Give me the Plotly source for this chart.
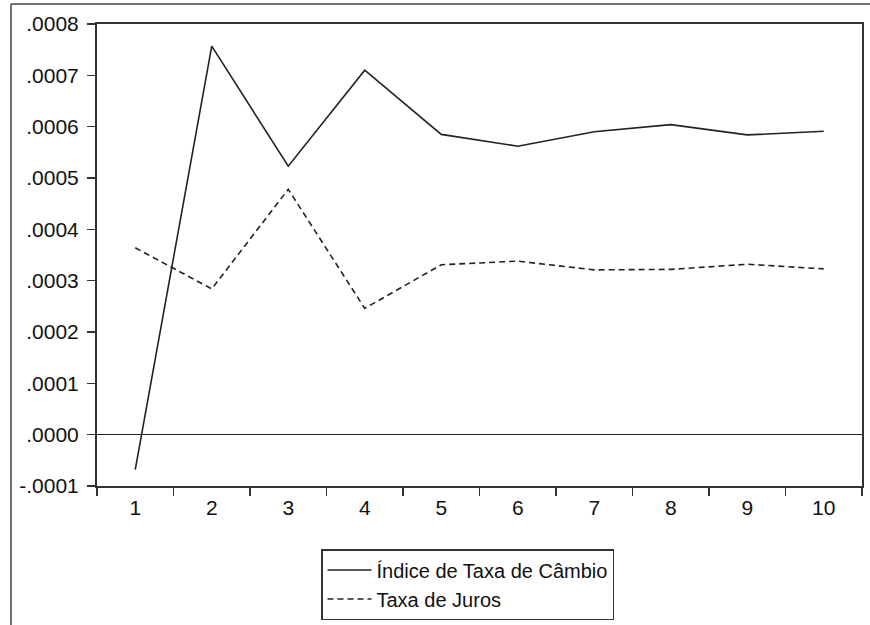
import plotly.graph_objects as go

periods = ["1", "2", "3", "4", "5", "6", "7", "8", "9", "10"]
cambio = [-0.000068, 0.000757, 0.000523, 0.000710, 0.000585, 0.000562, 0.000590, 0.000604, 0.000584, 0.000591]
juros = [0.000364, 0.000284, 0.000478, 0.000246, 0.000331, 0.000338, 0.000321, 0.000322, 0.000332, 0.000323]
y_ticks = [-0.0001, 0.0, 0.0001, 0.0002, 0.0003, 0.0004, 0.0005, 0.0006, 0.0007, 0.0008]
y_labels = ["-.0001", ".0000", ".0001", ".0002", ".0003", ".0004", ".0005", ".0006", ".0007", ".0008"]

W, H = 870, 625
L, R, T, B = 97, 8, 24, 139
pw, ph = W - L - R, H - T - B

font = dict(family="Liberation Sans, Arial, sans-serif", size=21, color="#111")
legend_font = dict(family="Liberation Sans, Arial, sans-serif", size=20, color="#111")

fig = go.Figure()
fig.add_trace(go.Scatter(x=periods, y=cambio, mode="lines", name="Índice de Taxa de Câmbio",
                         line=dict(color="#222", width=1.6)))
fig.add_trace(go.Scatter(x=periods, y=juros, mode="lines", name="Taxa de Juros",
                         line=dict(color="#222", width=1.6, dash="6px,4px")))

def px_to_paper_x(px):
    return (px - L) / pw

def px_to_paper_y(py):
    return (H - B - py) / ph

# outer frame (top and left)
fig.add_shape(type="line", xref="paper", yref="paper",
              x0=px_to_paper_x(11), x1=px_to_paper_x(880), y0=px_to_paper_y(4), y1=px_to_paper_y(4),
              line=dict(color="#444", width=1.5))
fig.add_shape(type="line", xref="paper", yref="paper",
              x0=px_to_paper_x(11), x1=px_to_paper_x(11), y0=px_to_paper_y(4), y1=px_to_paper_y(640),
              line=dict(color="#444", width=1.5))

fig.update_layout(
    width=W, height=H,
    margin=dict(l=L, r=R, t=T, b=B, autoexpand=False),
    paper_bgcolor="white", plot_bgcolor="white",
    font=font,
    showlegend=True,
    legend=dict(x=px_to_paper_x(321), y=px_to_paper_y(549), xanchor="left", yanchor="top",
                bordercolor="#333", borderwidth=1.5, bgcolor="white",
                font=legend_font, tracegroupgap=0, itemwidth=44,
                ),
    xaxis=dict(type="category", range=[-0.5, 9.5], tickson="boundaries",
               ticks="outside", ticklen=8, tickwidth=1.5, tickcolor="#333",
               showline=True, linecolor="#333", linewidth=2, mirror=True,
               showgrid=False, zeroline=False, tickfont=font, ticklabelstandoff=2),
    yaxis=dict(range=[-0.0001, 0.0008], tickvals=y_ticks, ticktext=y_labels,
               ticks="outside", ticklen=8, tickwidth=1.5, tickcolor="#333",
               showline=True, linecolor="#333", linewidth=2, mirror=True,
               showgrid=False, zeroline=True, zerolinecolor="#222", zerolinewidth=1.2,
               tickfont=font, ticklabelstandoff=4),
)

fig.write_html("out.html", config={"displayModeBar": False, "staticPlot": True},
               post_script="document.body.style.margin='0';document.body.style.overflow='hidden';")
